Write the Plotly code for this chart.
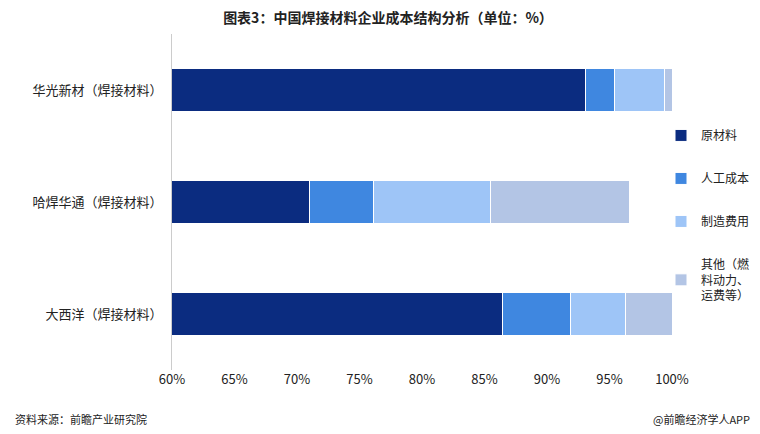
import plotly.graph_objects as go

companies = ["华光新材（焊接材料）", "哈焊华通（焊接材料）", "大西洋（焊接材料）"]
series_names = ["原材料", "人工成本", "制造费用", "其他（燃<br>料动力、<br>运费等）"]
raw = [93.1, 71.0, 86.4]
labor = [2.3, 5.1, 5.5]
manuf = [4.0, 9.4, 4.4]
other = [0.6, 11.1, 3.7]
colors = ["#0b2c80", "#3f87e0", "#9ec5f7", "#b3c5e5"]
ticks = [60, 65, 70, 75, 80, 85, 90, 95, 100]

fig = go.Figure()
for name, vals, c in zip(series_names, [raw, labor, manuf, other], colors):
    fig.add_trace(go.Bar(y=companies, x=vals, name=name, orientation="h", legendgroup=name,
                         marker=dict(color=c, line=dict(color="white", width=1)),
                         width=0.39))
fig.update_layout(
    barmode="stack", width=760, height=434, paper_bgcolor="white", plot_bgcolor="white",
    font=dict(family="Noto Sans CJK SC", size=13, color="#222"),
    margin=dict(l=164, r=96, t=26, b=72, autoexpand=False),
    title=dict(text="<b>图表3：中国焊接材料企业成本结构分析（单位：%）</b>", x=0.5, y=0.988,
               xanchor="center", font=dict(size=14)),
    legend=dict(x=0.978, xanchor="left", y=0.46, yanchor="middle", font=dict(size=12), itemwidth=30,
                tracegroupgap=24, traceorder="grouped", bgcolor="rgba(0,0,0,0)"),
    showlegend=True,
)
fig.update_xaxes(range=[60, 100], tickvals=ticks, ticktext=[f"{t}%" for t in ticks],
                 showgrid=False, zeroline=False, tickfont=dict(size=13), automargin=False)
fig.update_yaxes(autorange="reversed", showline=True, linecolor="#ccc", ticks="",
                 ticksuffix="  ", tickfont=dict(size=13), automargin=False)
fig.add_annotation(text="资料来源：前瞻产业研究院", xref="paper", yref="paper", x=-0.318, y=-0.175,
                   xanchor="left", showarrow=False, font=dict(size=11))
fig.add_annotation(text="@前瞻经济学人APP", xref="paper", yref="paper", x=1.16, y=-0.175,
                   xanchor="right", showarrow=False, font=dict(size=11))
fig.write_html("out.html")
